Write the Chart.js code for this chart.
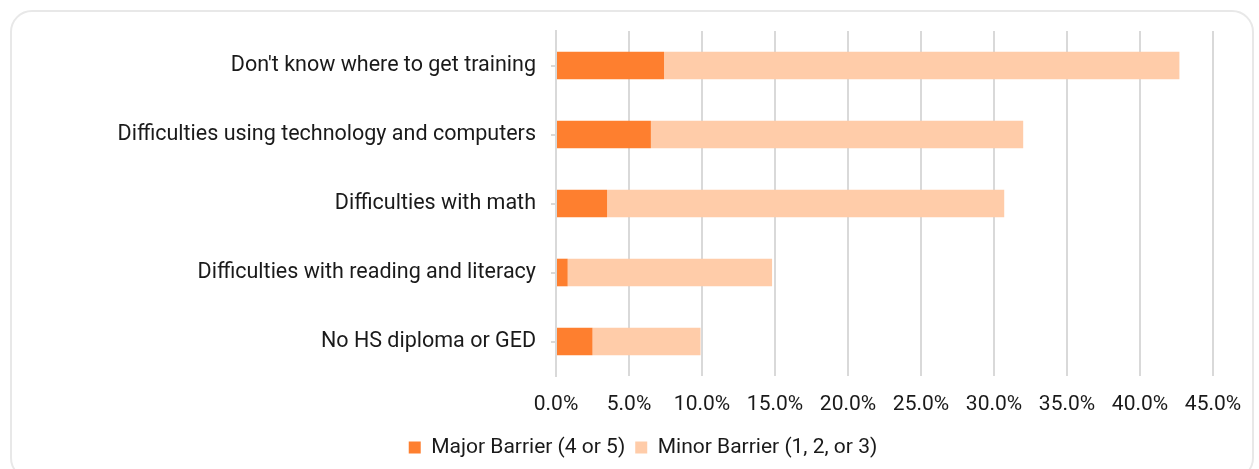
<!DOCTYPE html>
<html>
<head>
<meta charset="utf-8">
<script src="https://cdn.jsdelivr.net/npm/chart.js@4/dist/chart.umd.min.js"></script>
<style>
    html, body { margin: 0; padding: 0; background: #fff; }
    #card {
        position: absolute; left: 10px; top: 10px; width: 1244px; height: 470px;
        border: 2px solid #e8e8e8; border-radius: 22px; box-sizing: border-box;
    }
    #wrap { position: absolute; left: 0; top: 0; width: 1259px; height: 469px; }
</style>
</head>
<body>
<div id="card"></div>
<div id="wrap"><canvas id="myChart"></canvas></div>
<script>
const categories = [
    "Don't know where to get training",
    'Difficulties using technology and computers',
    'Difficulties with math',
    'Difficulties with reading and literacy',
    'No HS diploma or GED'
];
const majorBarrier = [7.4, 6.5, 3.5, 0.8, 2.5];
const minorBarrier = [35.3, 25.5, 27.2, 14.0, 7.4];
const seriesNames = ['Major Barrier (4 or 5)', 'Minor Barrier (1, 2, or 3)'];
const xTicks = [0, 5, 10, 15, 20, 25, 30, 35, 40, 45];

Chart.defaults.font.family = 'Roboto, "Noto Sans", sans-serif';
Chart.defaults.font.size = 21;
Chart.defaults.color = '#1a1a1a';

init();
function init() {
    const ctx = document.getElementById('myChart').getContext('2d');

    new Chart(ctx, {
        type: 'bar',
        data: {
            labels: categories,
            datasets: [
                {
                    label: seriesNames[0],
                    data: majorBarrier,
                    backgroundColor: '#fe7f2f',
                    borderWidth: 0,
                    categoryPercentage: 1,
                    barPercentage: 0.4
                },
                {
                    label: seriesNames[1],
                    data: minorBarrier,
                    backgroundColor: '#ffcca9',
                    borderWidth: 0,
                    categoryPercentage: 1,
                    barPercentage: 0.4
                }
            ]
        },
        options: {
            indexAxis: 'y',
            responsive: true,
            maintainAspectRatio: false,
            animation: false,
            layout: {
                padding: { left: 73, right: 46, top: 31, bottom: 1 }
            },
            scales: {
                x: {
                    stacked: true,
                    min: 0,
                    max: 45,
                    afterBuildTicks: (scale) => {
                        scale.ticks = xTicks.map(v => ({ value: v }));
                    },
                    afterFit: (scale) => { scale.height = 51; },
                    grid: { color: '#d9d9d9', lineWidth: 2, drawTicks: false },
                    border: { display: false },
                    ticks: {
                        padding: 16,
                        maxRotation: 0,
                        font: { size: 21 },
                        callback: (v) => Number(v).toFixed(1) + '%'
                    }
                },
                y: {
                    stacked: true,
                    afterFit: (scale) => { scale.width = 483; },
                    grid: { offset: false, drawOnChartArea: false, drawTicks: true, tickLength: 5, color: '#d9d9d9', lineWidth: 2 },
                    border: { display: true, color: '#d9d9d9', width: 2 },
                    ticks: { padding: 15, font: { size: 21.5 } }
                }
            },
            plugins: {
                legend: {
                    position: 'bottom',
                    labels: { boxWidth: 12, boxHeight: 12, padding: 10 }
                },
                tooltip: { enabled: false }
            }
        }
    });
}
</script>
</body>
</html>
